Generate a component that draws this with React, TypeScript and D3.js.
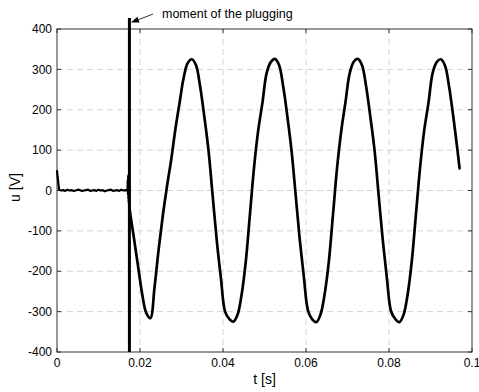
import * as d3 from "d3";

// voltage before the plugging, sampled every 0.5 ms from t = 0
const preStart = 0;
const preStep = 0.0005;
const preU = [48, 2, 0, 1, -1, 2, 0, 1, -1, 0, 2, 1, -1, 0, 1, 2, -1, 0, 1, -1, 2, 0, 1, -2, 0, 1, 2, -1, 0, 1, -1, 2, 0, 1, 0];

// switching transient right at the plugging
const plugT = [0.017, 0.01705, 0.0171, 0.01715, 0.0172, 0.01725, 0.0173, 0.01735, 0.0174];
const plugU = [2, 25, -10, 35, -20, 38, -30, 30, -23];

// mains voltage after the plugging, sampled every 1 ms from t = 0.0175
const mainsStart = 0.0175;
const mainsStep = 0.001;
const mainsU = [
  -45, -115, -185, -255, -303, -316, -240, -145, -62, 10,
  75, 150, 215, 278, 316, 325, 310, 257, 183, 100,
  -12, -124, -217, -300, -318, -325, -308, -257, -175, -58,
  59, 150, 217, 290, 318, 326, 311, 258, 184, 100,
  -10, -122, -216, -298, -319, -326, -307, -256, -176, -60,
  57, 148, 218, 289, 319, 326, 310, 257, 183, 101,
  -11, -123, -218, -299, -318, -326, -308, -257, -174, -58,
  58, 150, 216, 290, 318, 325, 309, 256, 182, 100,
];
const tailT = [0.097];
const tailU = [55];

// the plugging marker
const plugMoment = 0.01745;
const plugTop = 427;
const noteText = "moment of the plugging";
const noteFrom = { t: 0.02313, u: 437 };
const noteTo = { t: 0.01783, u: 416 };
const noteAt = { t: 0.0253, u: 428 };

const xTicks = [0, 0.02, 0.04, 0.06, 0.08, 0.1];
const xTickLabels = ["0", "0.02", "0.04", "0.06", "0.08", "0.1"];
const yTicks = [-400, -300, -200, -100, 0, 100, 200, 300, 400];
const yTickLabels = ["-400", "-300", "-200", "-100", "0", "100", "200", "300", "400"];

const W = 479;
const H = 392;
const left = 57;
const right = 472;
const top = 29;
const bottom = 352;
const font = "'Liberation Sans', Arial, Helvetica, sans-serif";

type Pt = { t: number; u: number };

export default function App() {
  const x = d3.scaleLinear([0, 0.1], [left, right]);
  const y = d3.scaleLinear([-400, 400], [bottom, top]);

  const pre: Pt[] = preU.map((u, i) => ({ t: preStart + i * preStep, u }));
  const plug: Pt[] = plugT.map((t, i) => ({ t, u: plugU[i] }));
  const mains: Pt[] = [
    plug[plug.length - 1],
    ...mainsU.map((u, i) => ({ t: mainsStart + i * mainsStep, u })),
    ...tailT.map((t, i) => ({ t, u: tailU[i] })),
  ];

  const straight = d3.line<Pt>((d) => x(d.t), (d) => y(d.u));
  const smooth = d3.line<Pt>((d) => x(d.t), (d) => y(d.u)).curve(d3.curveCatmullRom);

  // arrow head
  const hx = x(noteTo.t), hy = y(noteTo.u);
  const ang = Math.atan2(y(noteFrom.u) - hy, x(noteFrom.t) - hx);
  const len = 8, half = 3;
  const bx = hx + len * Math.cos(ang), by = hy + len * Math.sin(ang);
  const head = [
    [hx, hy],
    [bx - half * Math.sin(ang), by + half * Math.cos(ang)],
    [bx + half * Math.sin(ang), by - half * Math.cos(ang)],
  ];

  return (
    <svg
      width={W}
      height={H}
      style={{ position: "absolute", left: 0, top: 0, background: "#fff" }}
      fontFamily={font}
    >
      <rect width={W} height={H} fill="#fff" />
      {/* grid */}
      <g stroke="#d4d4d4" strokeWidth={1} strokeDasharray="6,4">
        {xTicks.slice(1, -1).map((t) => (
          <line key={t} x1={x(t)} x2={x(t)} y1={top} y2={bottom} />
        ))}
        {yTicks.slice(1, -1).map((v) => (
          <line key={v} x1={left} x2={right} y1={y(v)} y2={y(v)} />
        ))}
      </g>
      {/* box and ticks */}
      <rect x={left} y={top} width={right - left} height={bottom - top} fill="none" stroke="#333" strokeWidth={1} />
      <g stroke="#333" strokeWidth={1}>
        {xTicks.map((t) => (
          <g key={t}>
            <line x1={x(t)} x2={x(t)} y1={bottom} y2={bottom - 4} />
            <line x1={x(t)} x2={x(t)} y1={top} y2={top + 4} />
          </g>
        ))}
        {yTicks.map((v) => (
          <g key={v}>
            <line x1={left} x2={left + 4} y1={y(v)} y2={y(v)} />
            <line x1={right} x2={right - 4} y1={y(v)} y2={y(v)} />
          </g>
        ))}
      </g>
      <g fontSize={12} fill="#000">
        {xTicks.map((t, i) => (
          <text key={t} x={x(t)} y={367} textAnchor="middle">
            {xTickLabels[i]}
          </text>
        ))}
        {yTicks.map((v, i) => (
          <text key={v} x={52} y={y(v)} dy="0.35em" textAnchor="end">
            {yTickLabels[i]}
          </text>
        ))}
      </g>
      {/* signal */}
      <g fill="none" stroke="#000" strokeLinejoin="round" strokeLinecap="round">
        <path d={straight(pre) ?? ""} strokeWidth={2.2} />
        <path d={straight(plug) ?? ""} strokeWidth={2.2} />
        <path d={smooth(mains) ?? ""} strokeWidth={2.7} />
        <line x1={x(plugMoment)} x2={x(plugMoment)} y1={y(plugTop)} y2={y(-400)} strokeWidth={3} strokeLinecap="butt" />
      </g>
      {/* annotation */}
      <line x1={x(noteFrom.t)} y1={y(noteFrom.u)} x2={bx} y2={by} stroke="#000" strokeWidth={0.8} />
      <polygon points={head.map((p) => p.join(",")).join(" ")} fill="#000" />
      <text x={x(noteAt.t)} y={y(noteAt.u)} fontSize={12.5} fill="#000">
        {noteText}
      </text>
      {/* axis labels */}
      <text x={(left + right) / 2} y={384} fontSize={14} textAnchor="middle" fill="#000">
        t [s]
      </text>
      <text transform={`translate(20,${(top + bottom) / 2 - 3}) rotate(-90)`} fontSize={14} textAnchor="middle" fill="#000">
        u [V]
      </text>
    </svg>
  );
}
